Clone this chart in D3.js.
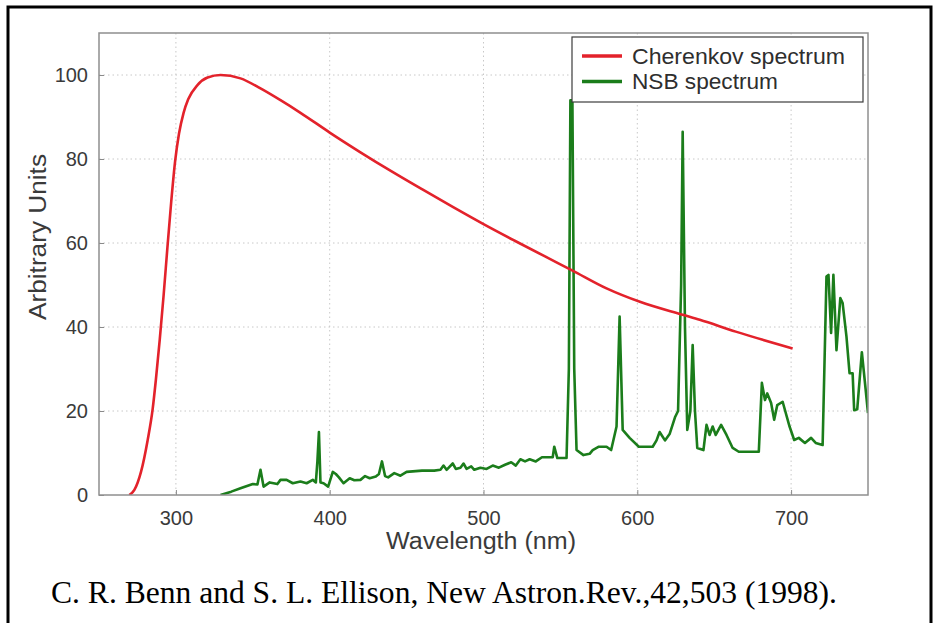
<!DOCTYPE html>
<html>
<head>
<meta charset="utf-8">
<script src="https://cdn.jsdelivr.net/npm/d3@7"></script>
<style>
  html, body { margin: 0; padding: 0; background: #ffffff; }
  svg { display: block; }
</style>
</head>
<body>
<svg id="chart" width="935" height="623"></svg>
<script>
// ---------------- data ----------------
const cherenkovWavelength = [269.7, 273, 277.3, 281.6, 284.9, 287, 289.5, 292, 294.5, 297, 299.5, 302, 305, 308, 314, 320.6, 329, 342, 355, 368, 381, 400, 420, 440, 460, 480, 500, 520, 540, 557.6, 580, 601.7, 629.5, 640.6, 664, 701];
const cherenkovValue      = [0, 1.2, 5.5, 13, 20.5, 27.5, 37, 47.5, 59, 70, 79.5, 86, 91, 94.2, 97.6, 99.4, 100, 99.2, 96.8, 94, 91, 86.3, 81.6, 77.1, 72.8, 68.6, 64.5, 60.6, 56.8, 53.5, 49.2, 46, 42.9, 41.7, 38.9, 34.9];

const nsbWavelength = [329, 336, 342, 350, 353, 355, 357, 361, 366, 368, 372, 376, 381, 385, 389, 391, 392, 393, 394, 396, 399, 402, 404, 406, 409, 413, 416, 420, 423, 426, 430, 432, 434, 436, 438, 442, 446, 450, 460, 468, 472, 474, 476, 480, 482, 485, 487, 489, 492, 494, 498, 502, 506, 510, 514, 518, 521, 524, 527, 530, 534, 538, 542, 545, 546, 548, 554, 555.5, 556.5, 557.8, 559, 560.5, 565, 569, 571, 575, 580, 583, 586.5, 588.5, 590.5, 595, 601, 610, 612.5, 614.5, 618, 621, 624.5, 626.5, 628.5, 629.5, 631, 632.5, 634.5, 636, 637.5, 639, 643, 645, 647, 649, 651, 654.5, 658, 662, 666, 679, 681, 683, 684.5, 687, 689, 691, 694.5, 699, 702, 705, 709, 713, 716, 720.5, 723, 724.3, 726, 727.5, 729.5, 732, 733.5, 736, 738, 740, 741, 743, 746, 748.5, 750];
const nsbValue      = [0, 0.8, 1.6, 2.6, 2.5, 6, 2, 3, 2.6, 3.6, 3.6, 2.8, 3.2, 2.8, 3.6, 3, 8, 15, 3, 2.8, 2, 5.5, 5, 4.2, 2.8, 4, 3.5, 3.6, 4.5, 4, 4.4, 5, 8, 4.5, 4.2, 5.2, 4.6, 5.5, 5.8, 5.8, 6, 7, 6, 7.5, 6.2, 6.5, 7.5, 6.2, 6.8, 6, 6.5, 6.2, 7, 6.5, 7.2, 7.8, 7, 8.5, 8, 8.5, 8, 9, 9, 9, 11.5, 8.8, 8.8, 30, 94, 94, 30, 10.7, 9.5, 9.8, 10.7, 11.5, 11.5, 10.7, 16.3, 42.5, 15.5, 13.6, 11.5, 11.5, 13, 15, 13, 14.5, 18.5, 20, 50, 86.5, 40, 15.5, 20, 35.7, 20, 11.2, 10.7, 16.7, 14.3, 16.3, 14.3, 16.7, 14.3, 11.2, 10.3, 10.3, 26.7, 22.6, 24.2, 21.9, 17.9, 21.4, 22.2, 16.3, 13.1, 13.6, 12.4, 13.6, 12.4, 11.9, 52, 52.4, 38.6, 52.4, 34.5, 46.9, 45.7, 37.7, 29, 29, 20.2, 20.4, 34, 25, 19.5];

const xTicks = [300, 400, 500, 600, 700];
const yTicks = [0, 20, 40, 60, 80, 100];
const seriesNames = ["Cherenkov spectrum", "NSB spectrum"];
const seriesColors = ["#e3222b", "#1b7d1b"];
const xTitle = "Wavelength (nm)";
const yTitle = "Arbitrary Units";
const citation = "C. R. Benn and S. L. Ellison, New Astron.Rev.,42,503 (1998).";

// ---------------- layout ----------------
const svg = d3.select("#chart");
const plot = { left: 99, right: 868, top: 33, bottom: 495 };
const x = d3.scaleLinear().domain([250, 750]).range([plot.left, plot.right]);
const y = d3.scaleLinear().domain([0, 110]).range([plot.bottom, plot.top]);
const sans = "'Liberation Sans', Arial, Helvetica, sans-serif";

// outer black frame
svg.append("path")
  .attr("d", "M8,640 L8,7 L931,7 L931,640")
  .attr("fill", "none").attr("stroke", "#000").attr("stroke-width", 3);

// plot background
svg.append("rect")
  .attr("x", plot.left).attr("y", plot.top)
  .attr("width", plot.right - plot.left).attr("height", plot.bottom - plot.top)
  .attr("fill", "#ffffff");

// grid
const grid = svg.append("g");
grid.selectAll("line.gx").data(xTicks).join("line")
  .attr("x1", d => x(d)).attr("x2", d => x(d))
  .attr("y1", plot.top).attr("y2", plot.bottom)
  .attr("stroke", "#c8c8c8").attr("stroke-width", 1).attr("stroke-dasharray", "1.5,3");
grid.selectAll("line.gy").data(yTicks.filter(d => d > 0)).join("line")
  .attr("x1", plot.left).attr("x2", plot.right)
  .attr("y1", d => y(d)).attr("y2", d => y(d))
  .attr("stroke", "#c8c8c8").attr("stroke-width", 1).attr("stroke-dasharray", "1.5,3");

// axes via d3
const xAxis = svg.append("g").attr("transform", `translate(0,${plot.bottom})`)
  .call(d3.axisBottom(x).tickValues(xTicks).tickSize(-5).tickPadding(12).tickFormat(d3.format("d")));
const yAxis = svg.append("g").attr("transform", `translate(${plot.left},0)`)
  .call(d3.axisLeft(y).tickValues(yTicks).tickSize(-5).tickPadding(11).tickFormat(d3.format("d")));
[xAxis, yAxis].forEach(a => {
  a.select(".domain").remove();
  a.selectAll(".tick line").attr("stroke", "#8a8a8a").attr("stroke-width", 1);
  a.selectAll(".tick text").attr("fill", "#3a3a3a").attr("font-family", sans).attr("font-size", 20);
});
xAxis.selectAll(".tick text").attr("dy", "0.9em");

// clip
svg.append("clipPath").attr("id", "clip").append("rect")
  .attr("x", plot.left).attr("y", plot.top)
  .attr("width", plot.right - plot.left).attr("height", plot.bottom - plot.top);

const cherenkov = cherenkovWavelength.map((w, i) => [w, cherenkovValue[i]]);
const nsb = nsbWavelength.map((w, i) => [w, nsbValue[i]]);

const lines = svg.append("g").attr("clip-path", "url(#clip)");
lines.append("path").datum(nsb)
  .attr("d", d3.line().x(d => x(d[0])).y(d => y(d[1])))
  .attr("fill", "none").attr("stroke", seriesColors[1]).attr("stroke-width", 2.6)
  .attr("stroke-linejoin", "round");
lines.append("path").datum(cherenkov)
  .attr("d", d3.line().x(d => x(d[0])).y(d => y(d[1])).curve(d3.curveMonotoneX))
  .attr("fill", "none").attr("stroke", seriesColors[0]).attr("stroke-width", 2.6)
  .attr("stroke-linejoin", "round");

// plot box
svg.append("rect")
  .attr("x", plot.left).attr("y", plot.top)
  .attr("width", plot.right - plot.left).attr("height", plot.bottom - plot.top)
  .attr("fill", "none").attr("stroke", "#8f8f8f").attr("stroke-width", 1.5);

// legend
const lg = svg.append("g");
lg.append("rect").attr("x", 572).attr("y", 37).attr("width", 291).attr("height", 65)
  .attr("fill", "#ffffff").attr("stroke", "#3c3c3c").attr("stroke-width", 1.2);
const legendWidths = [213, 146];
seriesNames.forEach((name, i) => {
  const cy = 56 + i * 25.5;
  lg.append("line").attr("x1", 582).attr("x2", 622).attr("y1", cy).attr("y2", cy)
    .attr("stroke", seriesColors[i]).attr("stroke-width", 3.5);
  lg.append("text").attr("x", 632).attr("y", cy).attr("dy", "0.36em")
    .attr("font-family", sans).attr("font-size", 22).attr("fill", "#2e2e2e")
    .attr("textLength", legendWidths[i]).attr("lengthAdjust", "spacingAndGlyphs")
    .text(name);
});

// axis titles
svg.append("text").attr("x", 481).attr("y", 549)
  .attr("text-anchor", "middle").attr("font-family", sans).attr("font-size", 23)
  .attr("fill", "#3a3a3a").attr("textLength", 190).attr("lengthAdjust", "spacingAndGlyphs")
  .text(xTitle);
svg.append("text").attr("transform", "translate(46,237) rotate(-90)")
  .attr("text-anchor", "middle").attr("font-family", sans).attr("font-size", 23)
  .attr("fill", "#3a3a3a").attr("textLength", 166).attr("lengthAdjust", "spacingAndGlyphs")
  .text(yTitle);

// citation
svg.append("text").attr("x", 51).attr("y", 603)
  .attr("font-family", "'Liberation Serif', 'Times New Roman', serif").attr("font-size", 32)
  .attr("fill", "#000").attr("textLength", 786).attr("lengthAdjust", "spacingAndGlyphs")
  .text(citation);
</script>
</body>
</html>
